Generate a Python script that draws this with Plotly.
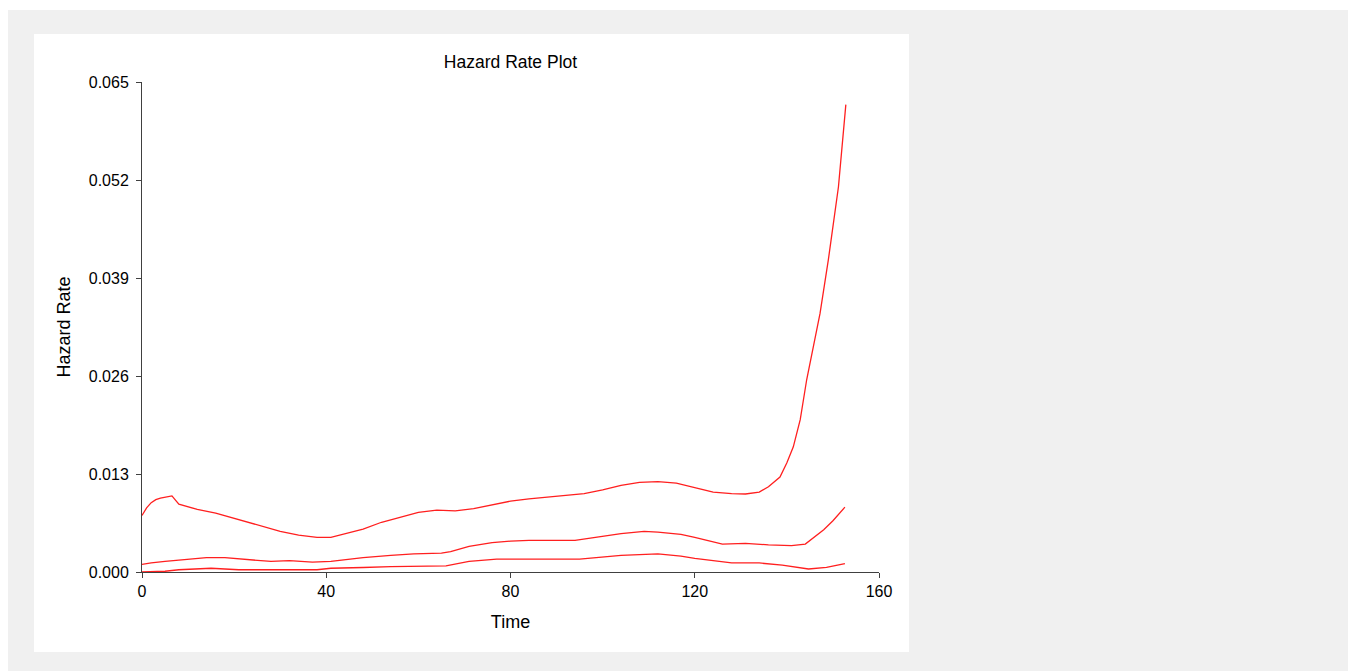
import plotly.graph_objects as go

# ---- data ----
time_upper = [0, 1, 2, 3, 4, 6, 6.5, 8, 10, 12, 16, 20, 24, 28, 30, 34, 38, 41, 44, 48,
              52, 56, 60, 64, 68, 72, 76, 80, 84, 88, 92, 96, 100, 104, 108, 112, 116,
              120, 124, 128, 131, 134, 136, 138.5, 140, 141.4, 142.9, 144.3, 147.2, 149,
              151.2, 152.8]
hazard_upper = [0.0075, 0.0085, 0.0092, 0.0096, 0.0098, 0.0101, 0.0101, 0.0090, 0.0086,
                0.0083, 0.0078, 0.0071, 0.0064, 0.0058, 0.0054, 0.0049, 0.0046, 0.0046,
                0.0051, 0.0057, 0.0066, 0.0073, 0.0079, 0.0082, 0.0081, 0.0084, 0.0089,
                0.0094, 0.0097, 0.0099, 0.0101, 0.0104, 0.0109, 0.0115, 0.0119, 0.0120,
                0.0118, 0.0112, 0.0106, 0.0104, 0.01035, 0.0106, 0.0113, 0.0126, 0.0145,
                0.0166, 0.0202, 0.0255, 0.0343, 0.0414, 0.0511, 0.0620]

time_mid = [0, 2, 5, 10, 14, 18, 22, 26, 28, 32, 37, 41, 48, 54, 59, 65, 67, 71, 76, 80,
            84, 94, 99, 104, 109, 112, 117, 120, 126, 131, 136, 141, 144, 148, 150, 152.6]
hazard_mid = [0.0010, 0.0012, 0.0014, 0.0017, 0.0019, 0.0019, 0.0017, 0.0015, 0.0014,
              0.0015, 0.0013, 0.0014, 0.0019, 0.0022, 0.0024, 0.0025, 0.0027, 0.0034,
              0.0039, 0.0041, 0.0042, 0.0042, 0.0046, 0.0051, 0.0054, 0.0053, 0.0050,
              0.0046, 0.0037, 0.0038, 0.0036, 0.0035, 0.0037, 0.0056, 0.0068, 0.0086]

time_low = [0, 5, 8, 13, 15, 18, 21, 38, 41, 48, 54, 66, 71, 77, 95, 104, 110, 112, 117,
            120, 128, 134, 139, 144.7, 148.6, 152.6]
hazard_low = [0.0000, 0.0001, 0.0003, 0.0004, 0.0005, 0.0004, 0.0003, 0.0003, 0.0005,
              0.0006, 0.0007, 0.0008, 0.0014, 0.0017, 0.0017, 0.0022, 0.0024, 0.0024,
              0.0021, 0.0018, 0.0012, 0.0012, 0.0009, 0.0004, 0.0006, 0.0011]

x_ticks = [0, 40, 80, 120, 160]
y_ticks = [0.000, 0.013, 0.026, 0.039, 0.052, 0.065]

# ---- figure geometry (page pixels; the page body adds an 8px margin) ----
OFF = 8
W, H = 1356 - OFF, 671 - OFF
L, R, T, B = 142 - OFF, 879 - OFF, 82 - OFF, 572 - OFF
pw, ph = R - L, B - T

def px_x(p):
    return (p - OFF - L) / pw

def px_y(p):
    return (B - (p - OFF)) / ph

fig = go.Figure()
for xs, ys in [(time_upper, hazard_upper), (time_mid, hazard_mid), (time_low, hazard_low)]:
    fig.add_trace(go.Scatter(x=xs, y=ys, mode="lines",
                             line=dict(color="#ff1f1f", width=1.3),
                             showlegend=False, hoverinfo="x+y"))

font = "Liberation Sans, Arial, sans-serif"
fig.update_layout(
    width=W, height=H,
    margin=dict(l=L, r=W - R, t=T, b=H - B),
    paper_bgcolor="white",
    plot_bgcolor="white",
    font=dict(family=font, size=16, color="black"),
    title=dict(text="Hazard Rate Plot", x=0.5, xref="paper", xanchor="center",
               y=1 - (62 - OFF) / H, yanchor="middle", font=dict(size=17.5, color="black")),
    shapes=[
        dict(type="rect", xref="paper", yref="paper", layer="below",
             x0=px_x(6), x1=px_x(1360), y0=px_y(675), y1=px_y(10),
             fillcolor="#f0f0f0", line=dict(width=0)),
        dict(type="rect", xref="paper", yref="paper", layer="below",
             x0=px_x(34), x1=px_x(909), y0=px_y(652), y1=px_y(34),
             fillcolor="white", line=dict(width=0)),
    ],
)
fig.update_xaxes(range=[0, 160], tickvals=x_ticks, ticktext=[str(v) for v in x_ticks],
                 showgrid=False, zeroline=False, showline=True, linecolor="#404040",
                 linewidth=1, ticks="outside", ticklen=5, tickcolor="#404040",
                 tickfont=dict(size=16), title=dict(text="Time", font=dict(size=18), standoff=16))
fig.update_yaxes(range=[0, 0.065], tickvals=y_ticks, ticktext=[f"{v:.3f}" for v in y_ticks],
                 showgrid=False, zeroline=False, showline=True, linecolor="#404040",
                 linewidth=1, ticks="outside", ticklen=5, tickcolor="#404040",
                 ticklabelstandoff=4,
                 tickfont=dict(size=16), title=dict(text="Hazard Rate", font=dict(size=18), standoff=13))

fig.write_html("out.html")
